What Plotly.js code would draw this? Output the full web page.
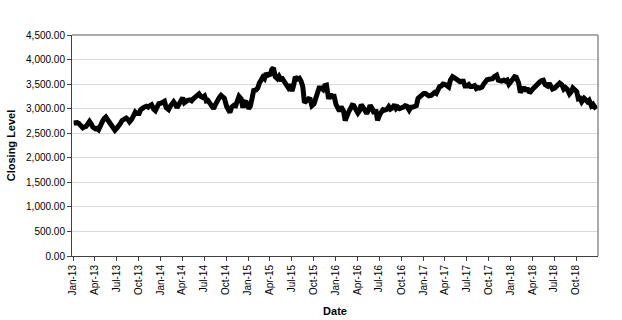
<!DOCTYPE html>
<html>
<head>
<meta charset="utf-8">
<script src="https://cdn.plot.ly/plotly-3.0.1.min.js"></script>
<style>html,body{margin:0;padding:0;background:#fff;}#chart{width:622px;height:320px;}</style>
</head>
<body>
<div id="chart"></div>
<script>
// Approximate weekly closing levels (4 per month)
var weekDays = [3, 10, 17, 24];
var close2013 = [2710,2720,2715,2700, 2650,2610,2630,2640, 2690,2740,2690,2625, 2590,2600,2570,2680,
                 2740,2800,2830,2780, 2700,2650,2590,2560, 2610,2680,2700,2760, 2780,2810,2780,2730,
                 2790,2860,2930,2900, 2900,2980,3020,3030, 3050,3030,3060,3080, 2990,2960,3030,3100];
var close2014 = [3110,3130,3150,3020, 2980,3050,3110,3140, 3090,3020,3080,3160, 3220,3120,3160,3170,
                 3180,3160,3200,3240, 3270,3300,3250,3230, 3260,3160,3170,3110, 3010,3000,3080,3170,
                 3230,3270,3220,3210, 3050,2960,2920,3030, 3070,3060,3140,3250, 3200,3020,3140,3130];
var close2015 = [3000,3050,3200,3370, 3380,3420,3520,3600, 3640,3610,3720,3680, 3700,3800,3830,3650,
                 3610,3660,3600,3610, 3530,3500,3430,3490, 3360,3480,3650,3600, 3620,3560,3450,3120,
                 3170,3200,3190,3060, 3100,3200,3280,3420, 3420,3390,3470,3480, 3200,3300,3210,3290];
var close2016 = [3080,3000,2950,3040, 2950,2760,2870,2930, 3000,3070,3060,2990, 2910,2960,3080,3030,
                 2940,2900,2970,3070, 2990,2900,2980,2760, 2880,2940,2980,2970, 2990,3040,2990,3010,
                 3080,3000,3030,3000, 3010,3030,3060,3050, 2970,3030,3030,3040, 3060,3210,3240,3290];
var close2017 = [3310,3310,3290,3260, 3270,3300,3330,3310, 3410,3450,3460,3500, 3490,3460,3440,3580,
                 3650,3630,3600,3570, 3550,3560,3560,3460, 3460,3490,3450,3450, 3470,3410,3430,3420,
                 3440,3500,3540,3590, 3600,3610,3610,3650, 3680,3580,3570,3560, 3580,3560,3580,3500];
var close2018 = [3560,3610,3650,3640, 3520,3330,3410,3440, 3360,3420,3350,3340, 3400,3440,3480,3520,
                 3550,3570,3580,3490, 3460,3520,3440,3400, 3420,3460,3470,3520, 3480,3400,3430,3400,
                 3300,3340,3420,3400, 3350,3200,3210,3140, 3210,3180,3140,3170, 3060,3090,3030,2990];
var years = [2013, 2014, 2015, 2016, 2017, 2018];
var yearly = [close2013, close2014, close2015, close2016, close2017, close2018];

function pad(n){ return (n < 10 ? '0' : '') + n; }
var dates = [], values = [];
years.forEach(function(yr, yi){
  var arr = yearly[yi];
  for (var m = 0; m < 12; m++) {
    for (var w = 0; w < 4; w++) {
      dates.push(yr + '-' + pad(m + 1) + '-' + pad(weekDays[w]));
      values.push(arr[m * 4 + w]);
    }
  }
});

var font = 'Arial, "Liberation Sans", sans-serif';
var trace = {
  x: dates, y: values, type: 'scatter', mode: 'lines',
  line: {color: '#000000', width: 5},
  hoverinfo: 'skip'
};
var layout = {
  width: 622, height: 320,
  margin: {l: 72, r: 24, t: 35, b: 64},
  paper_bgcolor: '#ffffff', plot_bgcolor: '#ffffff',
  showlegend: false,
  font: {family: font, size: 10, color: '#000'},
  xaxis: {
    type: 'date',
    range: ['2012-12-27', '2018-12-31'],
    tick0: '2013-01-01', dtick: 'M3', tickformat: '%b-%y',
    tickangle: -90,
    ticks: 'outside', ticklen: 4, tickcolor: '#404040',
    showline: true, linecolor: '#404040', linewidth: 1,
    mirror: false, showgrid: false, zeroline: false,
    tickfont: {family: font, size: 10, color: '#000'},
    title: {text: '<b>Date</b>', font: {family: font, size: 11, color: '#000'}, standoff: 12}
  },
  yaxis: {
    range: [0, 4500], dtick: 500, tick0: 0, tickformat: ',.2f',
    ticks: 'outside', ticklen: 4, tickcolor: '#404040',
    showline: true, linecolor: '#404040', linewidth: 1,
    showgrid: true, gridcolor: '#d9d9d9', gridwidth: 1, zeroline: false,
    tickfont: {family: font, size: 10, color: '#000'},
    title: {text: '<b>Closing Level</b>', font: {family: font, size: 11, color: '#000'}, standoff: 8}
  },
  shapes: [
    {type: 'line', xref: 'paper', yref: 'paper', x0: 0, x1: 1, y0: 1, y1: 1, line: {color: '#909090', width: 1.5}},
    {type: 'line', xref: 'paper', yref: 'paper', x0: 1, x1: 1, y0: 0, y1: 1, line: {color: '#909090', width: 1.5}}
  ]
};
Plotly.newPlot('chart', [trace], layout, {displayModeBar: false, staticPlot: true});
</script>
</body>
</html>
